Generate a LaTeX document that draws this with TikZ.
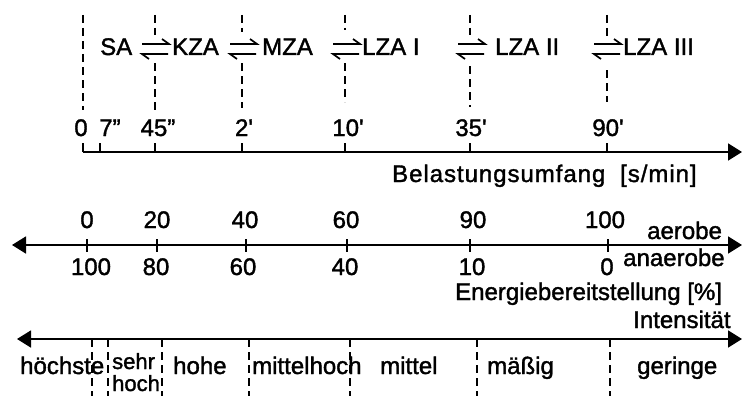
\documentclass[tikz,border=0pt]{standalone}
\usepackage{fontspec}
\setmainfont{Liberation Sans}[RawFeature={embolden=1.5}]
\newfontfamily\spacedfont{Liberation Sans}[LetterSpace=4,RawFeature={embolden=1.5}]
\usetikzlibrary{arrows.meta}

\begin{document}
\begin{tikzpicture}[x=1pt,y=-1pt,
  >={Triangle[length=14pt,width=17pt]},
  lbl/.style={inner sep=0pt, anchor=base west, font=\fontsize{24}{28}\selectfont},
  num/.style={inner sep=0pt, anchor=base, font=\fontsize{24}{28}\selectfont},
  axisline/.style={line width=1.7pt},
  tickline/.style={line width=1.6pt},
  guide/.style={line width=1.5pt, dash pattern=on 8pt off 5pt},
  harpoon/.style={line width=1.7pt, line cap=butt, line join=miter}]
\useasboundingbox (0,0) rectangle (743,396);

% ---------- work phases and their duration scale ----------
% dashed guides (split where the equilibrium arrows sit)
\draw[guide] (83,15) -- (83,110);
\foreach \x/\a/\b/\c/\d in {155/15/35/63/110, 242/15/32/63/108, 345/15/30/63/102,
                            470/15/35/66/107, 607/15/37/70/102}{
  \draw[guide] (\x,\a) -- (\x,\b);
  \draw[guide] (\x,\c) -- (\x,\d);
}

% phase names
\node[lbl] (sa)    at (100,55) {SA};
\node[lbl] (kza)   at (172,55) {KZA};
\node[lbl] (mza)   at (262,55) {MZA};
\node[lbl] (lza1)  at (362,55) {LZA I};
\node[lbl] (lza2)  at (495,55) {LZA II};
\node[lbl] (lza3)  at (623,55) {LZA III};

% equilibrium harpoons between the phases
\foreach \xc in {155,243,346,471,607}{
  \draw[harpoon] (\xc-13,44) -- (\xc+14,44) -- ++(-7,-5);
  \draw[harpoon] (\xc+13,54) -- (\xc-13,54) -- ++(7,5);
}

% duration labels
\node[num] (d0)  at (81,136)  {0};
\node[num] (d1)  at (110,136) {7"};
\node[num] (d2)  at (158,136) {45"};
\node[num] (d3)  at (244,136) {2\textquotesingle};
\node[num] (d4)  at (348,136) {10\textquotesingle};
\node[num] (d5)  at (471,136) {35\textquotesingle};
\node[num] (d6)  at (608,136) {90\textquotesingle};

% duration axis
\coordinate (dstart) at (83,152);
\coordinate (dend) at (742,152);
\draw[axisline,->] (dstart) -- (dend);
\foreach \x [count=\i] in {83,100,155,242,345,470,607}{
  \coordinate (dt\i) at (\x,152);
  \draw[tickline] (dt\i) -- ++(0,-9);
}
\node[lbl,font=\fontsize{24}{28}\spacedfont] (dtitle) at (392,182) {Belastungsumfang};
\node[lbl,font=\fontsize{24}{28}\spacedfont] (dunit)  at (620,182) {[s/min]};

% ---------- energy supply ----------
\coordinate (estart) at (12,245);
\coordinate (eend) at (742,245);
\draw[axisline,<->] (estart) -- (eend);
\foreach \x [count=\i] in {87,157,246,347,470,608}{
  \coordinate (et\i) at (\x,239);
  \draw[tickline] (et\i) -- ++(0,13);
}
% aerobic share
\node[num] (ae1) at (87,228)  {0};
\node[num] (ae2) at (157,228) {20};
\node[num] (ae3) at (245,228) {40};
\node[num] (ae4) at (346,228) {60};
\node[num] (ae5) at (473,228) {90};
\node[num] (ae6) at (605,228) {100};
% anaerobic share
\node[num] (an1) at (91,275)  {100};
\node[num] (an2) at (156,275) {80};
\node[num] (an3) at (243,275) {60};
\node[num] (an4) at (345,275) {40};
\node[num] (an5) at (472,275) {10};
\node[num] (an6) at (607,275) {0};

\node[lbl] (aer)   at (647,239) {aerobe};
\node[lbl] (anaer) at (623,266) {anaerobe};
\node[lbl] (etitle) at (455,300) {Energiebereitstellung [\%]};

% ---------- intensity ----------
\node[lbl] (ititle) at (633,328) {Intensität};
\coordinate (istart) at (17,339);
\coordinate (iend) at (742,339);
\draw[axisline,<->] (istart) -- (iend);
\foreach \x [count=\i] in {92,108,162,249,350,477,610}{
  \coordinate (it\i) at (\x,339);
  \draw[guide] (it\i) -- ++(0,57);
}
\node[lbl] (i1)  at (20,374)  {höchste};
\node[lbl,font=\fontsize{22}{24}\selectfont] (i2a) at (112,369) {sehr};
\node[lbl,font=\fontsize{22}{24}\selectfont] (i2b) at (112,391) {hoch};
\node[lbl] (i3)  at (173,374) {hohe};
\node[lbl] (i4)  at (252,374) {mittelhoch};
\node[lbl] (i5)  at (380,374) {mittel};
\node[lbl] (i6)  at (487,374) {mäßig};
\node[lbl] (i7)  at (637,374) {geringe};
\end{tikzpicture}
\end{document}
